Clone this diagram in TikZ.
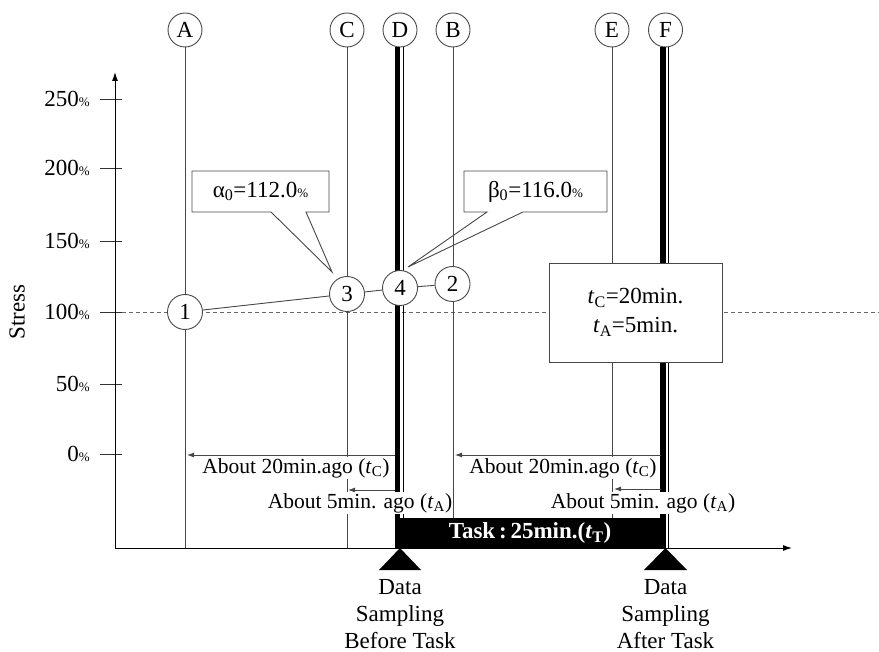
\documentclass[tikz,border=0pt]{standalone}
\usepackage{fontspec}
\setmainfont{Liberation Serif}
\usetikzlibrary{arrows.meta}
\newcommand{\pct}{{\fontsize{13}{13}\selectfont\%}}
\newcommand{\tsub}[1]{\textit{t}\textsubscript{#1}}
\begin{document}
\begin{tikzpicture}[x=1pt,y=-1pt,font=\fontsize{23}{27}\selectfont,
  thin line/.style={draw=black!72,line width=0.9pt},
  lettercirc/.style={circle,draw=black!72,fill=white,line width=0.9pt,minimum size=34pt,inner sep=0pt},
  numcirc/.style={circle,draw=black!72,fill=white,line width=0.9pt,minimum size=35pt,inner sep=0pt},
  axis/.style={draw=black,line width=1pt,-{Latex[length=9pt,width=6pt]}},
  tickmark/.style={draw=black!80,line width=0.9pt},
  ago/.style={draw=black!72,line width=0.9pt,-{Latex[length=7pt,width=5pt]}},
  agolabel/.style={fill=white,inner sep=1pt,font=\fontsize{21.5}{25}\selectfont},
  callout/.style={draw=black!72,line width=0.9pt},
  sampling/.style={align=center,font=\fontsize{23}{27}\selectfont}]
\useasboundingbox (0,0) rectangle (879,652);
% axes
\coordinate (O) at (115,548);
\coordinate (ytop) at (115,72);
\coordinate (xend) at (792,548);
% dashed 100% line
\draw[draw=black!60,line width=0.8pt,dash pattern=on 4pt off 3pt] (122,312) -- (879,312);
% ticks
\foreach \yy/\lab in {99/250,168/200,241/150,312/100,384/50,454/0}{
  \draw[tickmark] (100,\yy) -- (122,\yy);
  \node[anchor=east,inner sep=0pt] at (90,\yy) {\lab\pct};
}
\node[rotate=90] (stress) at (17,312) {Stress};
% letter circles
\node[lettercirc] (cA) at (185,30) {A};
\node[lettercirc] (cC) at (347,30) {C};
\node[lettercirc] (cD) at (400,30) {D};
\node[lettercirc] (cB) at (453,30) {B};
\node[lettercirc] (cE) at (612,30) {E};
\node[lettercirc] (cF) at (665.5,30) {F};
\coordinate (Abot) at (185,548);
\coordinate (Cbot) at (347,548);
\coordinate (Bbot) at (453,548);
\coordinate (Ebot) at (612,548);
\coordinate (Dbot) at (400,548);
\coordinate (Fbot) at (665.5,548);
\draw[thin line] (cA) -- (Abot);
\draw[thin line] (cC) -- (Cbot);
\draw[thin line] (cB) -- (Bbot);
\draw[thin line] (cE) -- (Ebot);
\draw[line width=5.5pt] ([xshift=-2.5pt]cD.south) -- ([xshift=-2.5pt]Dbot);
\draw[line width=1.3pt] ([xshift=3.5pt]cD.south) -- ([xshift=3.5pt]Dbot);
\draw[line width=5.5pt] ([xshift=-2.5pt]cF.south) -- ([xshift=-2.5pt]Fbot);
\draw[line width=1.3pt] ([xshift=3pt]cF.south) -- ([xshift=3pt]Fbot);
\draw[axis] (O) -- (ytop);
\draw[axis] (O) -- (xend);
% callouts
\draw[callout] (192,171) -- (329,171) -- (329,212) -- (306,212) -- (332,272) -- (271,212) -- (192,212) -- cycle;
\node (alpha) at (260.5,191.5) {α\textsubscript{0}=112.0\pct};
\draw[callout] (464,171) -- (607,171) -- (607,212) -- (523,212) -- (408,267) -- (487,212) -- (464,212) -- cycle;
\node (beta) at (535.5,191.5) {β\textsubscript{0}=116.0\pct};
% numbered circles
\node[numcirc] (n1) at (185,312) {1};
\node[numcirc] (n3) at (347,294) {3};
\node[numcirc] (n4) at (400,288) {4};
\node[numcirc] (n2) at (452.5,284) {2};
\draw[thin line] (n1) -- (n3);
\draw[thin line] (n3) -- (n4);
\draw[thin line] (n4) -- (n2);
% time box
\node[draw=black!72,fill=white,line width=0.9pt,minimum width=173pt,minimum height=99pt,align=center,font=\fontsize{23}{29}\selectfont] (tbox) at (635.5,312.5) {\tsub{C}=20min.\\\tsub{A}=5min.};
% ago arrows
\coordinate (l20s) at (395,455);
\coordinate (l20e) at (187,455);
\coordinate (l5s) at (395,490);
\coordinate (l5e) at (348,490);
\coordinate (r20s) at (661,455);
\coordinate (r20e) at (455,455);
\coordinate (r5s) at (661,489);
\coordinate (r5e) at (614,489);
\draw[ago] (l20s) -- (l20e);
\draw[ago] (l5s) -- (l5e);
\draw[ago] (r20s) -- (r20e);
\draw[ago] (r5s) -- (r5e);
\node[agolabel] (l20lab) at (296,468) {About 20min.ago (\tsub{C})};
\node[agolabel] (l5lab) at (360,503) {About 5min. ago (\tsub{A})};
\node[agolabel] (r20lab) at (563,468) {About 20min.ago (\tsub{C})};
\node[agolabel] (r5lab) at (643,503) {About 5min. ago (\tsub{A})};
% task bar
\fill (395,518) rectangle (663,548);
\node[text=white,font=\bfseries\fontsize{23}{27}\selectfont] (task) at (530,533) {Task\,:\,25min.(\tsub{T})};
% triangles
\fill (400,548) -- (379,570) -- (421,570) -- cycle;
\fill (665.5,548) -- (644,570) -- (687,570) -- cycle;
\node[sampling] (before) at (400,614) {Data\\Sampling\\Before Task};
\node[sampling] (after) at (665.5,614) {Data\\Sampling\\After Task};
\end{tikzpicture}
\end{document}
